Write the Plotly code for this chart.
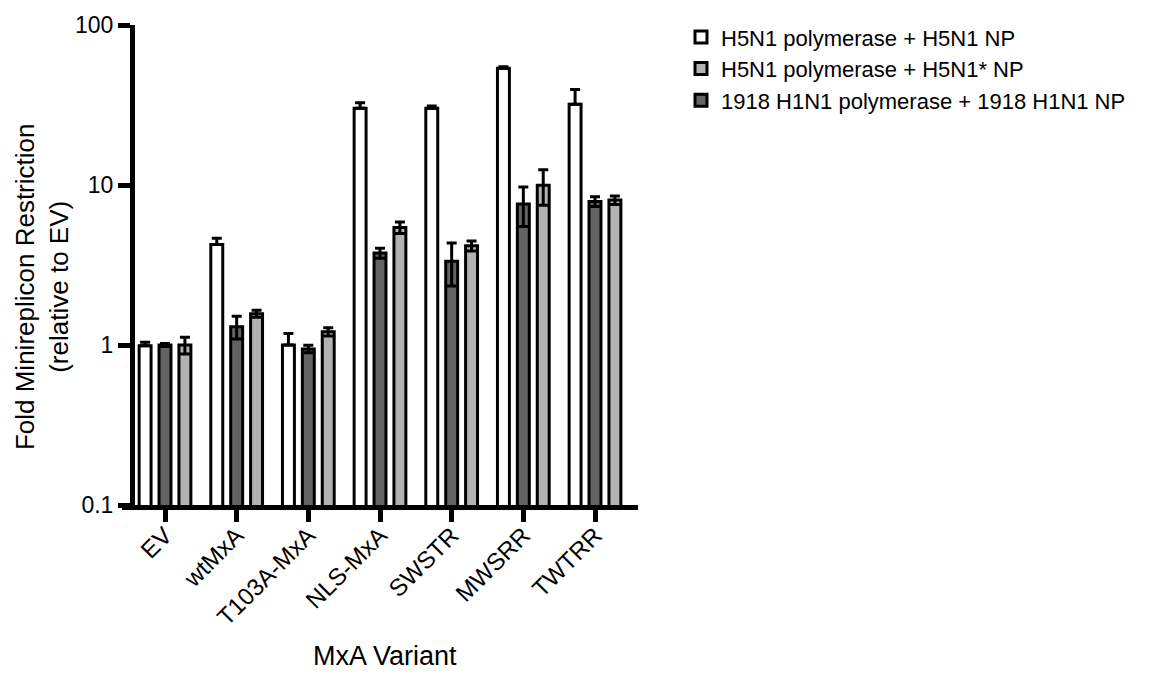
import plotly.graph_objects as go

categories = ["EV", "wtMxA", "T103A-MxA", "NLS-MxA", "SWSTR", "MWSRR", "TWTRR"]

h5n1_np = [0.99, 4.25, 1.0, 30.2, 30.2, 53.7, 32.0]
h5n1_np_err = [0.05, 0.4, 0.18, 2.5, 1.0, 1.2, 7.5]

h1n1_1918 = [1.0, 1.30, 0.945, 3.76, 3.34, 7.6, 7.9]
h1n1_1918_err = [0.02, 0.21, 0.05, 0.27, 1.0, 2.1, 0.55]

h5n1_star_np = [1.0, 1.57, 1.21, 5.42, 4.17, 9.96, 8.05]
h5n1_star_np_err = [0.12, 0.08, 0.07, 0.45, 0.3, 2.5, 0.5]

names = ["H5N1 polymerase + H5N1 NP",
         "1918 H1N1 polymerase + 1918 H1N1 NP",
         "H5N1 polymerase + H5N1* NP"]
colors = ["#ffffff", "#636363", "#b2b2b2"]

FONT = "Liberation Sans, Arial, Helvetica, sans-serif"

W, H = 1149, 674
L, R, T, B = 122, 638, 16, 505

fig = go.Figure()

fig.add_trace(go.Bar(
    x=categories, y=h5n1_np, name=names[0], legendrank=1,
    marker=dict(color=colors[0], line=dict(color="black", width=3)),
    error_y=dict(type="data", array=h5n1_np_err, arrayminus=[0] * len(h5n1_np_err),
                 symmetric=False, color="black", thickness=3, width=5),
))
fig.add_trace(go.Bar(
    x=categories, y=h1n1_1918, name=names[1], legendrank=3,
    marker=dict(color=colors[1], line=dict(color="black", width=3)),
    error_y=dict(type="data", array=h1n1_1918_err, color="black", thickness=3, width=5),
))
fig.add_trace(go.Bar(
    x=categories, y=h5n1_star_np, name=names[2], legendrank=2,
    marker=dict(color=colors[2], line=dict(color="black", width=3)),
    error_y=dict(type="data", array=h5n1_star_np_err, color="black", thickness=3, width=5),
))

pw = R - L
ph = B - T

fig.update_layout(
    width=W, height=H,
    margin=dict(l=L, r=W - R, t=T, b=H - B, pad=0),
    paper_bgcolor="white", plot_bgcolor="white",
    barmode="group", bargap=0.167, bargroupgap=0.4,
    font=dict(family=FONT, size=22, color="black"),
    showlegend=True,
    legend=dict(x=(681 - L) / pw, y=1 - (7 - T) / ph, xanchor="left", yanchor="top",
                font=dict(family=FONT, size=22, color="black"),
                bgcolor="rgba(0,0,0,0)", tracegroupgap=0, itemwidth=30),
    xaxis=dict(
        range=[-0.6, 6.6], showgrid=False, zeroline=False,
        showline=True, linecolor="black", linewidth=5,
        ticks="outside", ticklen=12, tickwidth=5, tickcolor="black",
        tickangle=-45, ticklabelstandoff=-10,
        tickfont=dict(family=FONT, size=24, color="black"),
    ),
    yaxis=dict(
        type="log", range=[-1, 2], showgrid=False, zeroline=False,
        anchor="free", position=(132 - L) / pw,
        showline=True, linecolor="black", linewidth=5,
        ticks="outside", ticklen=12, tickwidth=5, tickcolor="black",
        tickvals=[0.1, 1, 10, 100], ticktext=["0.1", "1", "10", "100"],
        tickfont=dict(family=FONT, size=23, color="black"),
    ),
    annotations=[
        dict(text="Fold Minireplicon Restriction<br>(relative to EV)",
             xref="paper", yref="paper", x=(42 - L) / pw, y=1 - (283 - T) / ph,
             xanchor="center", yanchor="middle", textangle=-90, showarrow=False,
             font=dict(family=FONT, size=26, color="black")),
        dict(text="MxA Variant", xref="paper", yref="paper",
             x=(385 - L) / pw, y=1 - (659 - T) / ph,
             xanchor="center", yanchor="middle", showarrow=False,
             font=dict(family=FONT, size=27, color="black")),
    ],
)

fig.write_html("out.html")
